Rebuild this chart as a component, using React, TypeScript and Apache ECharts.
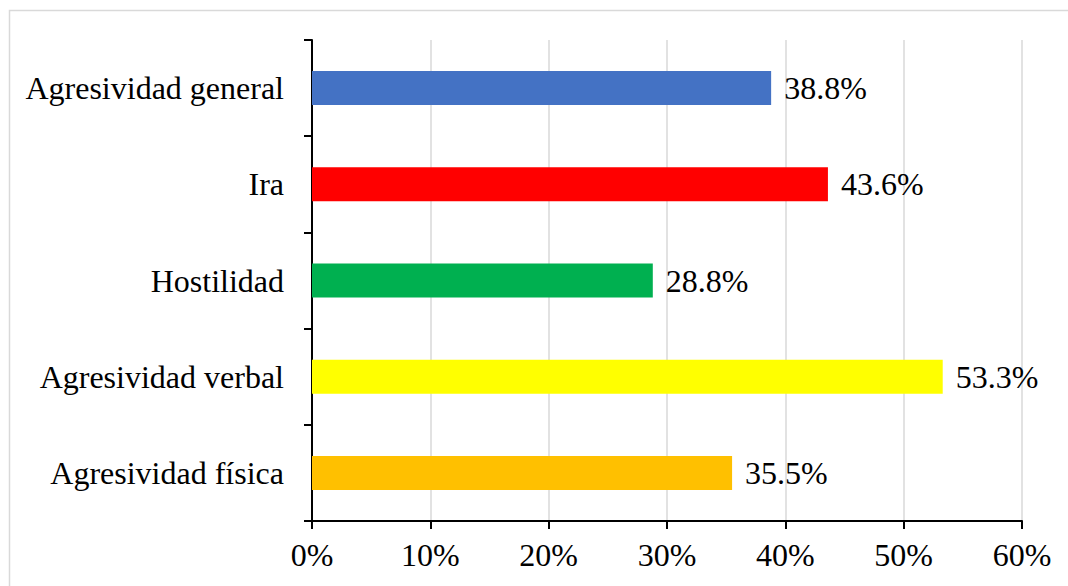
import React, { useEffect, useRef } from "react";
import * as echarts from "echarts";

const categories = [
  "Agresividad general",
  "Ira",
  "Hostilidad",
  "Agresividad verbal",
  "Agresividad física",
];
const values = [38.8, 43.6, 28.8, 53.3, 35.5];
const colors = ["#4472C4", "#FF0000", "#00B050", "#FFFF00", "#FFC000"];
const xTicks = [0, 10, 20, 30, 40, 50, 60];

const FONT = "'Liberation Serif', 'Times New Roman', serif";

export default function App() {
  const ref = useRef<HTMLDivElement>(null);
  useEffect(() => {
    document.body.style.margin = "0";
    const chart = echarts.init(ref.current!, null, { renderer: "svg" });
    chart.setOption({
      animation: false,
      backgroundColor: "#fff",
      graphic: [
        {
          type: "rect",
          shape: { x: 9.5, y: 10.5, width: 1080, height: 600 },
          style: { fill: "none", stroke: "#d9d9d9", lineWidth: 1.5 },
          silent: true,
        },
      ],
      grid: { left: 312, right: 46, top: 40, bottom: 65, containLabel: false },
      xAxis: {
        type: "value",
        min: xTicks[0],
        max: xTicks[xTicks.length - 1],
        interval: 10,
        axisLine: { show: true, lineStyle: { color: "#000", width: 2 } },
        axisTick: { show: true, length: 8, lineStyle: { color: "#000", width: 2 } },
        splitLine: { show: true, lineStyle: { color: "#d9d9d9", width: 1.5 } },
        axisLabel: {
          formatter: "{value}%",
          color: "#000",
          fontFamily: FONT,
          fontSize: 32,
          margin: 18,
        },
      },
      yAxis: {
        type: "category",
        data: categories,
        inverse: true,
        axisLine: { show: true, lineStyle: { color: "#000", width: 2 } },
        axisTick: { show: true, length: 8, lineStyle: { color: "#000", width: 2 } },
        axisLabel: {
          color: "#000",
          fontFamily: FONT,
          fontSize: 32,
          margin: 28,
        },
      },
      series: [
        {
          type: "bar",
          barWidth: 34,
          data: values.map((v, i) => ({ value: v, itemStyle: { color: colors[i] } })),
          label: {
            show: true,
            position: "right",
            distance: 13,
            color: "#000",
            fontFamily: FONT,
            fontSize: 32,
            formatter: (p: any) => `${Number(p.value).toFixed(1)}%`,
          },
        },
      ],
    });
    return () => chart.dispose();
  }, []);
  return <div ref={ref} style={{ width: 1068, height: 586 }} />;
}
